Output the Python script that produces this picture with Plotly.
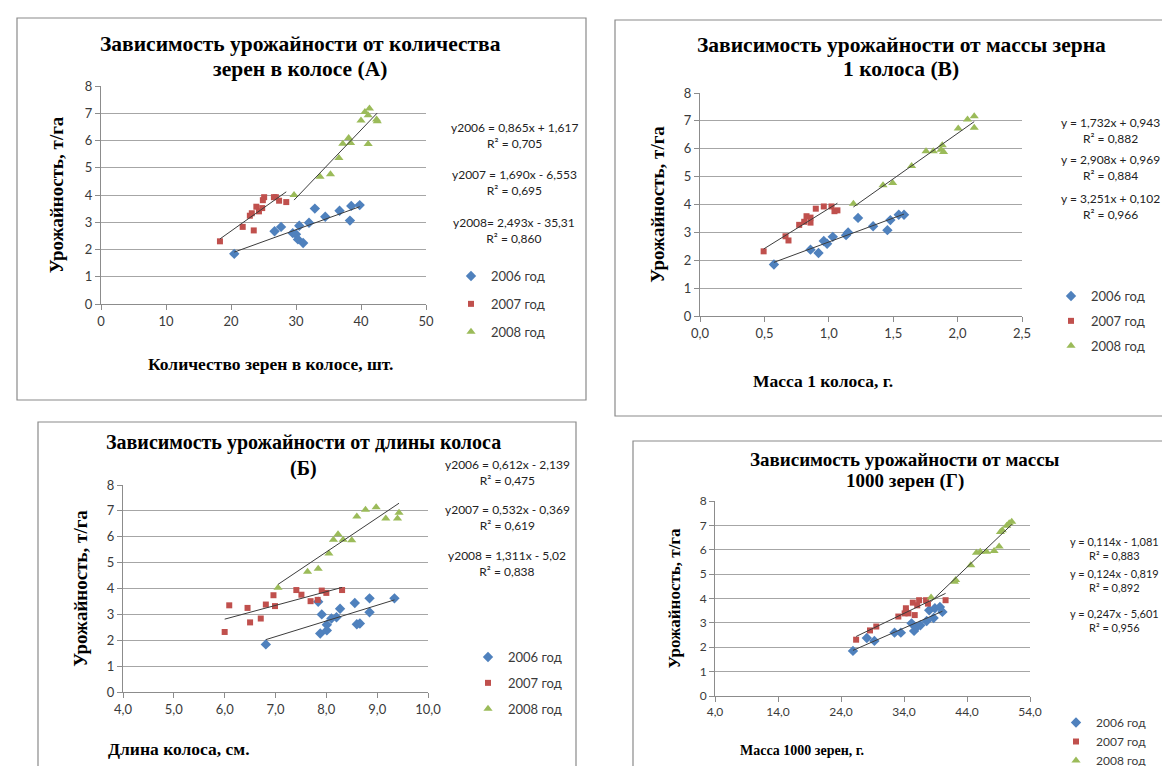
import numpy as np
import plotly.graph_objects as go

# ---------------- DATA ----------------
years = ["2006 год", "2007 год", "2008 год"]

# (A) grains per ear vs yield
a_x_2006 = [20.5, 26.7, 27.7, 29.5, 30.0, 30.3, 30.5, 31.1, 32.0, 32.9, 34.5, 36.7, 38.3, 38.5, 39.8]
a_y_2006 = [1.84, 2.67, 2.83, 2.60, 2.56, 2.37, 2.87, 2.24, 2.98, 3.50, 3.20, 3.42, 3.06, 3.60, 3.63]
a_x_2007 = [18.3, 21.8, 22.9, 23.2, 23.5, 23.9, 24.3, 24.8, 24.9, 25.1, 26.6, 26.9, 27.4, 28.5]
a_y_2007 = [2.30, 2.83, 3.24, 3.33, 2.70, 3.57, 3.40, 3.52, 3.81, 3.92, 3.92, 3.92, 3.79, 3.74]
a_x_2008 = [29.7, 33.7, 35.3, 36.6, 37.2, 38.1, 38.4, 40.0, 40.6, 41.1, 41.3, 41.1, 42.4, 42.5]
a_y_2008 = [4.00, 4.67, 4.76, 5.36, 5.88, 6.09, 5.91, 6.73, 7.05, 6.93, 7.17, 5.87, 6.77, 6.71]
a_eq = ["y2006 = 0,865x + 1,617<br>R² = 0,705",
        "y2007 = 1,690x - 6,553<br>R² = 0,695",
        "y2008= 2,493x - 35,31<br>R² = 0,860"]

# (В) grain mass of 1 ear vs yield
b_x_2006 = [0.574, 0.858, 0.920, 0.961, 0.987, 1.031, 1.134, 1.150, 1.227, 1.344, 1.455, 1.478, 1.543, 1.584]
b_y_2006 = [1.85, 2.38, 2.26, 2.69, 2.59, 2.84, 2.90, 3.00, 3.52, 3.22, 3.08, 3.44, 3.63, 3.63]
b_x_2007 = [0.494, 0.664, 0.687, 0.770, 0.809, 0.827, 0.858, 0.858, 0.899, 0.961, 1.021, 1.044, 1.067]
b_y_2007 = [2.32, 2.86, 2.71, 3.27, 3.38, 3.58, 3.53, 3.35, 3.85, 3.93, 3.93, 3.76, 3.79]
b_x_2008 = [1.191, 1.421, 1.496, 1.643, 1.755, 1.811, 1.871, 1.881, 1.891, 2.005, 2.077, 2.129, 2.129]
b_y_2008 = [4.03, 4.69, 4.77, 5.38, 5.91, 5.91, 5.96, 6.13, 5.88, 6.73, 7.05, 7.17, 6.75]
b_eq = ["y = 1,732x + 0,943<br>R² = 0,882",
        "y = 2,908x + 0,969<br>R² = 0,884",
        "y = 3,251x + 0,102<br>R² = 0,966"]

# (Б) ear length vs yield
c_x_2006 = [6.81, 7.84, 7.88, 7.91, 8.01, 8.01, 8.10, 8.20, 8.27, 8.56, 8.60, 8.66, 8.85, 8.85, 9.34]
c_y_2006 = [1.84, 3.49, 2.26, 3.00, 2.60, 2.38, 2.84, 2.89, 3.22, 3.44, 2.62, 2.65, 3.62, 3.08, 3.62]
c_x_2007 = [6.00, 6.09, 6.45, 6.50, 6.71, 6.81, 6.96, 6.99, 7.41, 7.51, 7.69, 7.83, 7.91, 8.00, 8.31]
c_y_2007 = [2.32, 3.35, 3.25, 2.69, 2.84, 3.38, 3.74, 3.32, 3.94, 3.76, 3.51, 3.56, 3.92, 3.83, 3.94]
c_x_2008 = [7.05, 7.63, 7.84, 8.05, 8.14, 8.23, 8.33, 8.50, 8.60, 8.77, 8.98, 9.17, 9.40, 9.43]
c_y_2008 = [4.03, 4.65, 4.76, 5.35, 5.88, 6.10, 5.88, 5.86, 6.78, 7.04, 7.14, 6.71, 6.71, 6.93]
c_eq = ["y2006 = 0,612x - 2,139<br>R² = 0,475",
        "y2007 = 0,532x - 0,369<br>R² = 0,619",
        "y2008 = 1,311x - 5,02<br>R² = 0,838"]

# (Г) 1000-grain mass vs yield
d_x_2006 = [25.9, 28.1, 29.3, 32.5, 33.5, 35.2, 35.6, 36.0, 36.6, 37.6, 38.0, 38.7, 38.9, 39.7, 40.1]
d_y_2006 = [1.85, 2.38, 2.26, 2.60, 2.60, 2.98, 2.67, 2.83, 2.90, 3.08, 3.52, 3.20, 3.60, 3.65, 3.45]
d_x_2007 = [26.4, 28.6, 29.6, 33.1, 34.1, 34.3, 34.3, 34.7, 35.4, 35.7, 36.1, 36.4, 37.5, 37.8, 40.6]
d_y_2007 = [2.31, 2.69, 2.85, 3.26, 3.39, 3.60, 3.46, 3.39, 3.83, 3.32, 3.72, 3.93, 3.93, 3.79, 3.93]
d_x_2008 = [38.3, 42.0, 42.2, 44.6, 45.5, 46.1, 47.1, 48.3, 49.1, 49.3, 49.6, 50.3, 50.7, 51.1]
d_y_2008 = [4.04, 4.69, 4.76, 5.36, 5.88, 5.92, 5.92, 5.95, 6.13, 6.73, 6.80, 6.98, 7.09, 7.15]
d_eq = ["y = 0,114x - 1,081<br>R² = 0,883",
        "y = 0,124x - 0,819<br>R² = 0,892",
        "y = 0,247x - 5,601<br>R² = 0,956"]

titles = [["Зависимость урожайности от количества", "зерен в колосе (А)"],
          ["Зависимость урожайности от массы зерна", "1 колоса (В)"],
          ["Зависимость урожайности от длины колоса", "(Б)"],
          ["Зависимость урожайности от массы", "1000 зерен (Г)"]]
x_titles = ["Количество зерен в колосе, шт.", "Масса 1 колоса, г.",
            "Длина колоса, см.", "Масса 1000 зерен, г."]
y_title = "Урожайность, т/га"

y_ticks = [0, 1, 2, 3, 4, 5, 6, 7, 8]
a_xticks = [0, 10, 20, 30, 40, 50]
a_xtext = ["0", "10", "20", "30", "40", "50"]
b_xticks = [0.0, 0.5, 1.0, 1.5, 2.0, 2.5]
b_xtext = ["0,0", "0,5", "1,0", "1,5", "2,0", "2,5"]
c_xticks = [4, 5, 6, 7, 8, 9, 10]
c_xtext = ["4,0", "5,0", "6,0", "7,0", "8,0", "9,0", "10,0"]
d_xticks = [4, 14, 24, 34, 44, 54]
d_xtext = ["4,0", "14,0", "24,0", "34,0", "44,0", "54,0"]

# ---------------- LAYOUT HELPERS ----------------
W, H = 1170, 766
def fx(x): return x / W
def fy(y): return 1 - y / H

colors = ["#4F81BD", "#C0504D", "#9BBB59"]
symbols = ["diamond", "square", "triangle-up"]
msizes = [8, 6, 8]

panels = [
    dict(xs=[a_x_2006, a_x_2007, a_x_2008], ys=[a_y_2006, a_y_2007, a_y_2008], eq=a_eq,
         xt=a_xticks, xtt=a_xtext, xr=[0, 50], tick=13,
         plot=(93, 418, 78, 296), box=(9, 10, 578, 392),
         title=(292, [36, 61], 21.5), xtitle=(262, 356, 17.5), ytsize=19, standoff=16,
         eqpos=(506, [128, 175, 222], 12), leg=(443, 253, 8, 13, True)),
    dict(xs=[b_x_2006, b_x_2007, b_x_2008], ys=[b_y_2006, b_y_2007, b_y_2008], eq=b_eq,
         xt=b_xticks, xtt=b_xtext, xr=[0, 2.5], tick=13,
         plot=(692, 1014, 85, 308), box=(607, 12, 1168, 408),
         title=(893, [37, 61], 21.5), xtitle=(815, 373, 17.5), ytsize=19, standoff=14,
         eqpos=(1102, [123, 160, 198], 12), leg=(1043, 273, 5, 13, True)),
    dict(xs=[c_x_2006, c_x_2007, c_x_2008], ys=[c_y_2006, c_y_2007, c_y_2008], eq=c_eq,
         xt=c_xticks, xtt=c_xtext, xr=[4, 10], tick=13,
         plot=(115, 420, 477, 684), box=(30, 414, 568, 772),
         title=(295, [434, 461], 20), xtitle=(171, 741, 17.5), ytsize=19, standoff=14,
         eqpos=(499, [464, 509, 555], 12), leg=(460, 634, 6, 13, True)),
    dict(xs=[d_x_2006, d_x_2007, d_x_2008], ys=[d_y_2006, d_y_2007, d_y_2008], eq=d_eq,
         xt=d_xticks, xtt=d_xtext, xr=[4, 54], tick=12,
         plot=(707, 1022, 493, 688), box=(625, 433, 1167, 772),
         title=(897, [451, 473], 19), xtitle=(794, 742, 14), ytsize=17, standoff=14,
         eqpos=(1106, [540, 572, 612], 11), leg=(1048, 700, 0, 12, False)),
]

fig = go.Figure()
shapes, annotations = [], []
layout_axes = {}
legend_cfgs = {}
serif = "Liberation Serif, Times New Roman, serif"
sans = "Lato, Calibri, sans-serif"

for i, p in enumerate(panels):
    n = i + 1
    xa = "x" if n == 1 else f"x{n}"
    ya = "y" if n == 1 else f"y{n}"
    xkey = "xaxis" if n == 1 else f"xaxis{n}"
    ykey = "yaxis" if n == 1 else f"yaxis{n}"
    lkey = "legend" if n == 1 else f"legend{n}"
    x0, x1, ytop, ybot = p["plot"]
    tick_font = dict(family=sans, size=p["tick"], color="#3a3a3a")
    layout_axes[xkey] = dict(domain=[fx(x0), fx(x1)], range=p["xr"], anchor=ya, automargin=False,
                             tickvals=p["xt"], ticktext=p["xtt"], showgrid=False,
                             showline=True, linecolor="#8c8c8c", linewidth=1,
                             ticks="outside", ticklen=5, tickcolor="#8c8c8c",
                             zeroline=False, tickfont=tick_font, fixedrange=True)
    layout_axes[ykey] = dict(domain=[fy(ybot), fy(ytop)], range=[0, 8], anchor=xa, automargin=False,
                             tickvals=y_ticks, showgrid=True, gridcolor="#a6a6a6", gridwidth=1,
                             showline=True, linecolor="#8c8c8c", linewidth=1,
                             ticks="outside", ticklen=5, tickcolor="#8c8c8c",
                             zeroline=False, tickfont=tick_font, fixedrange=True,
                             title=dict(text=f"<b>{y_title}</b>", standoff=p["standoff"],
                                        font=dict(family=serif, size=p["ytsize"], color="#000")))
    lx, ly, gap, lfs, grouped = p["leg"]
    for k in range(3):
        fig.add_trace(go.Scatter(x=p["xs"][k], y=p["ys"][k], mode="markers", name=years[k],
                                 xaxis=xa, yaxis=ya, legend=lkey,
                                 legendgroup=(f"{n}-{k}" if grouped else None),
                                 marker=dict(symbol=symbols[k], color=colors[k], size=msizes[k],
                                             line=dict(width=0))))
    for k in range(3):
        xv = np.array(p["xs"][k]); yv = np.array(p["ys"][k])
        m, c = np.polyfit(xv, yv, 1)
        xl = np.array([xv.min(), xv.max()])
        fig.add_trace(go.Scatter(x=xl, y=m * xl + c, mode="lines", showlegend=False,
                                 xaxis=xa, yaxis=ya, hoverinfo="skip",
                                 line=dict(color="#3c3c3c", width=1)))
    bx0, by0, bx1, by1 = p["box"]
    shapes.append(dict(type="rect", xref="paper", yref="paper",
                       x0=fx(bx0), x1=fx(bx1), y0=fy(by1), y1=fy(by0),
                       line=dict(color="#8a8a8a", width=1.2), fillcolor="rgba(0,0,0,0)", layer="below"))
    tx, tys, ts = p["title"]
    for line, ty in zip(titles[i], tys):
        annotations.append(dict(text=f"<b>{line}</b>", x=fx(tx), y=fy(ty), xref="paper", yref="paper",
                                showarrow=False, xanchor="center", yanchor="middle",
                                font=dict(family=serif, size=ts, color="#000")))
    xtx, xty, xts = p["xtitle"]
    annotations.append(dict(text=f"<b>{x_titles[i]}</b>", x=fx(xtx), y=fy(xty), xref="paper", yref="paper",
                            showarrow=False, xanchor="center", yanchor="middle",
                            font=dict(family=serif, size=xts, color="#000")))
    ex, eys, es = p["eqpos"]
    for k in range(3):
        annotations.append(dict(text=p["eq"][k], x=fx(ex), y=fy(eys[k]), xref="paper", yref="paper",
                                showarrow=False, xanchor="center", yanchor="middle", align="center",
                                font=dict(family=sans, size=es, color="#222")))
    legend_cfgs[lkey] = dict(x=fx(lx), y=fy(ly), xanchor="left", yanchor="top",
                             bgcolor="rgba(0,0,0,0)", borderwidth=0, itemwidth=30,
                             tracegroupgap=gap,
                             font=dict(family=sans, size=lfs, color="#3a3a3a"))

fig.update_layout(width=W, height=H, margin=dict(l=0, r=0, t=0, b=0, autoexpand=False),
                  paper_bgcolor="white", plot_bgcolor="white",
                  shapes=shapes, annotations=annotations, showlegend=True,
                  **layout_axes, **legend_cfgs)

fig.write_html("out.html")
